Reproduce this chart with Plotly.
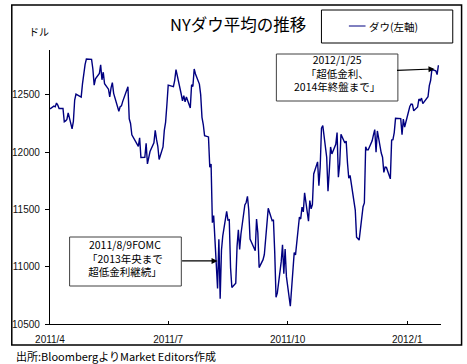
import plotly.graph_objects as go

# ---- data (Dow Jones Industrial Average daily close) ----
dates = [
    "2011-04-01","2011-04-04","2011-04-05","2011-04-06","2011-04-07","2011-04-08","2011-04-11","2011-04-12",
    "2011-04-13","2011-04-14","2011-04-15","2011-04-18","2011-04-19","2011-04-20","2011-04-21","2011-04-25",
    "2011-04-26","2011-04-27","2011-04-28","2011-04-29",
    "2011-05-02","2011-05-03","2011-05-04","2011-05-05","2011-05-06","2011-05-09","2011-05-10","2011-05-11",
    "2011-05-12","2011-05-13","2011-05-16","2011-05-17","2011-05-18","2011-05-19","2011-05-20","2011-05-23",
    "2011-05-24","2011-05-25","2011-05-26","2011-05-27","2011-05-31",
    "2011-06-01","2011-06-02","2011-06-03","2011-06-06","2011-06-07","2011-06-08","2011-06-09","2011-06-10",
    "2011-06-13","2011-06-14","2011-06-15","2011-06-16","2011-06-17","2011-06-20","2011-06-21","2011-06-22",
    "2011-06-23","2011-06-24","2011-06-27","2011-06-28","2011-06-29","2011-06-30",
    "2011-07-01","2011-07-05","2011-07-06","2011-07-07","2011-07-08","2011-07-11","2011-07-12","2011-07-13",
    "2011-07-14","2011-07-15","2011-07-18","2011-07-19","2011-07-20","2011-07-21","2011-07-22","2011-07-25",
    "2011-07-26","2011-07-27","2011-07-28","2011-07-29",
    "2011-08-01","2011-08-02","2011-08-03","2011-08-04","2011-08-05","2011-08-08","2011-08-09","2011-08-10",
    "2011-08-11","2011-08-12","2011-08-15","2011-08-16","2011-08-17","2011-08-18","2011-08-19","2011-08-22",
    "2011-08-23","2011-08-24","2011-08-25","2011-08-26","2011-08-29","2011-08-30","2011-08-31",
    "2011-09-01","2011-09-02","2011-09-06","2011-09-07","2011-09-08","2011-09-09","2011-09-12","2011-09-13",
    "2011-09-14","2011-09-15","2011-09-16","2011-09-19","2011-09-20","2011-09-21","2011-09-22","2011-09-23",
    "2011-09-26","2011-09-27","2011-09-28","2011-09-29","2011-09-30",
    "2011-10-03","2011-10-04","2011-10-05","2011-10-06","2011-10-07","2011-10-10","2011-10-11","2011-10-12",
    "2011-10-13","2011-10-14","2011-10-17","2011-10-18","2011-10-19","2011-10-20","2011-10-21","2011-10-24",
    "2011-10-25","2011-10-26","2011-10-27","2011-10-28","2011-10-31",
    "2011-11-01","2011-11-02","2011-11-03","2011-11-04","2011-11-07","2011-11-08","2011-11-09","2011-11-10",
    "2011-11-11","2011-11-14","2011-11-15","2011-11-16","2011-11-17","2011-11-18","2011-11-21","2011-11-22",
    "2011-11-23","2011-11-25","2011-11-28","2011-11-29","2011-11-30",
    "2011-12-01","2011-12-02","2011-12-05","2011-12-06","2011-12-07","2011-12-08","2011-12-09","2011-12-12",
    "2011-12-13","2011-12-14","2011-12-15","2011-12-16","2011-12-19","2011-12-20","2011-12-21","2011-12-22",
    "2011-12-23","2011-12-27","2011-12-28","2011-12-29","2011-12-30",
    "2012-01-03","2012-01-04","2012-01-05","2012-01-06","2012-01-09","2012-01-10","2012-01-11","2012-01-12",
    "2012-01-13","2012-01-17","2012-01-18","2012-01-19","2012-01-20","2012-01-23","2012-01-24","2012-01-25",
]
dow = [
    12377, 12400, 12394, 12427, 12409, 12380, 12381, 12264,
    12271, 12285, 12342, 12202, 12267, 12454, 12506, 12480,
    12595, 12691, 12763, 12811,
    12807, 12808, 12724, 12584, 12639, 12685, 12760, 12630,
    12696, 12596, 12548, 12480, 12560, 12605, 12512, 12381,
    12356, 12395, 12403, 12442, 12570,
    12290, 12249, 12151, 12090, 12071, 12049, 12124, 11952,
    11953, 12076, 11897, 11962, 12004, 12080, 12190, 12110,
    12050, 11935, 12044, 12189, 12261, 12414,
    12583, 12570, 12626, 12719, 12657, 12506, 12447, 12492,
    12437, 12480, 12385, 12587, 12572, 12724, 12681, 12593,
    12501, 12303, 12240, 12143,
    12132, 11867, 11896, 11384, 11445, 10810, 11240, 10720,
    11143, 11269, 11483, 11406, 11410, 10991, 10818, 10855,
    11177, 11321, 11150, 11285, 11539, 11560, 11614,
    11494, 11240, 11139, 11415, 11296, 10992, 11061, 11106,
    11247, 11433, 11509, 11401, 11409, 11125, 10734, 10771,
    11044, 11191, 10939, 11154, 10913,
    10655, 10809, 10940, 11123, 11103, 11433, 11416, 11519,
    11478, 11644, 11397, 11577, 11505, 11542, 11809, 11914,
    11707, 11869, 12209, 12231, 11955,
    11658, 11836, 12044, 11983, 12068, 12170, 11781, 11894,
    12154, 12079, 12096, 11906, 11771, 11796, 11547, 11494,
    11258, 11232, 11523, 11556, 12046,
    12020, 12019, 12098, 12150, 12196, 11998, 12184, 11991,
    11955, 11823, 11869, 11866, 11766, 12104, 12108, 12170,
    12294, 12291, 12151, 12287, 12218,
    12397, 12418, 12416, 12360, 12393, 12462, 12449, 12471,
    12422, 12482, 12579, 12624, 12720, 12709, 12676, 12757,
]

x_tick_vals = ["2011-04-01", "2011-07-01", "2011-10-01", "2012-01-01"]
x_tick_text = ["2011/4", "2011/7", "2011/10", "2012/1"]
y_tick_vals = [10500, 11000, 11500, 12000, 12500]
y_tick_text = ["10500", "11000", "11500", "12000", "12500"]

series_name = "ダウ(左軸)"
title_text = "NYダウ平均の推移"
unit_text = "ドル"
source_text = "出所:BloombergよりMarket Editors作成"
note1_lines = ["2012/1/25", "「超低金利、", "2014年終盤まで」"]
note2_lines = ["2011/8/9FOMC", "「2013年央まで", "超低金利継続」"]

# ---- layout geometry (pixels) ----
W, H = 467, 364
L, R, T, B = 42, 441, 50, 324


def px(x):
    return (x - L) / (R - L)


def py(y):
    return (B - y) / (B - T)


JP = "Noto Sans CJK JP, Noto Sans, sans-serif"
LINE_COLOR = "#000080"

fig = go.Figure()
fig.add_trace(go.Scatter(x=dates, y=dow, mode="lines", name=series_name,
                         line=dict(color=LINE_COLOR, width=1.4), showlegend=False))

fig.update_layout(
    width=W, height=H,
    margin=dict(l=L, r=W - R, t=T, b=H - B, pad=0),
    paper_bgcolor="white", plot_bgcolor="white",
    showlegend=False,
    font=dict(family="Liberation Sans, Arial, sans-serif", size=10, color="#111111"),
)
fig.update_xaxes(
    type="date", range=["2011-04-01", "2012-01-27"],
    tickmode="array", tickvals=x_tick_vals, ticktext=x_tick_text, tickangle=0,
    ticks="inside", ticklen=3, tickcolor="black", tickwidth=1,
    ticklabelstandoff=6,
    showline=True, linecolor="black", linewidth=1.3,
    showgrid=False, zeroline=False,
)
fig.update_yaxes(
    range=[10500, 12890], tickmode="array", tickvals=y_tick_vals, ticktext=y_tick_text,
    ticks="outside", ticklen=4, tickcolor="black", tickwidth=1,
    ticklabelstandoff=3,
    showline=True, linecolor="black", linewidth=1.3,
    showgrid=False, zeroline=False,
)

shapes = []
# outer frame
shapes.append(dict(type="rect", xref="paper", yref="paper",
                   x0=px(3), x1=px(462), y0=py(345), y1=py(5),
                   line=dict(color="black", width=1.5), layer="below"))
# legend box
shapes.append(dict(type="rect", xref="paper", yref="paper",
                   x0=px(319), x1=px(453), y0=py(43), y1=py(10),
                   line=dict(color="black", width=1), fillcolor="white"))
shapes.append(dict(type="line", xref="paper", yref="paper",
                   x0=px(347), x1=px(364), y0=py(26), y1=py(26),
                   line=dict(color=LINE_COLOR, width=1)))
# note boxes
shapes.append(dict(type="rect", xref="paper", yref="paper",
                   x0=px(273), x1=px(397), y0=py(101), y1=py(54),
                   line=dict(color="#404040", width=1), fillcolor="white"))
shapes.append(dict(type="rect", xref="paper", yref="paper",
                   x0=px(62), x1=px(176), y0=py(286), y1=py(237),
                   line=dict(color="#404040", width=1), fillcolor="white"))
fig.update_layout(shapes=shapes)

ann = []


def text(xp, yp, s, size, xanchor="center", family=JP, color="black"):
    ann.append(dict(x=px(xp), y=py(yp), xref="paper", yref="paper", text=s,
                    showarrow=False, xanchor=xanchor, yanchor="middle",
                    font=dict(family=family, size=size, color=color)))


text(234, 24, title_text, 16.5)
text(31, 32, unit_text, 10)
text(365, 26, series_name, 10.5, xanchor="left")
text(5, 356, source_text, 11, xanchor="left")
text(335, 72.5, "<br>".join(note1_lines), 10.5)
text(119, 257.5, "<br>".join(note2_lines), 10.5)

# arrows
ann.append(dict(x="2012-01-22", y=12725, xref="x", yref="y", ax=-39, ay=1.5,
                axref="pixel", ayref="pixel", text="", showarrow=True,
                arrowhead=2, arrowsize=1, arrowwidth=1.2, arrowcolor="black"))
ann.append(dict(x="2011-08-08", y=11050, xref="x", yref="y", ax=-37, ay=0,
                axref="pixel", ayref="pixel", text="", showarrow=True,
                arrowhead=2, arrowsize=1, arrowwidth=1.2, arrowcolor="black"))
fig.update_layout(annotations=ann)

fig.write_html("out.html", config={"displayModeBar": False},
               post_script="document.body.style.margin='0';")
